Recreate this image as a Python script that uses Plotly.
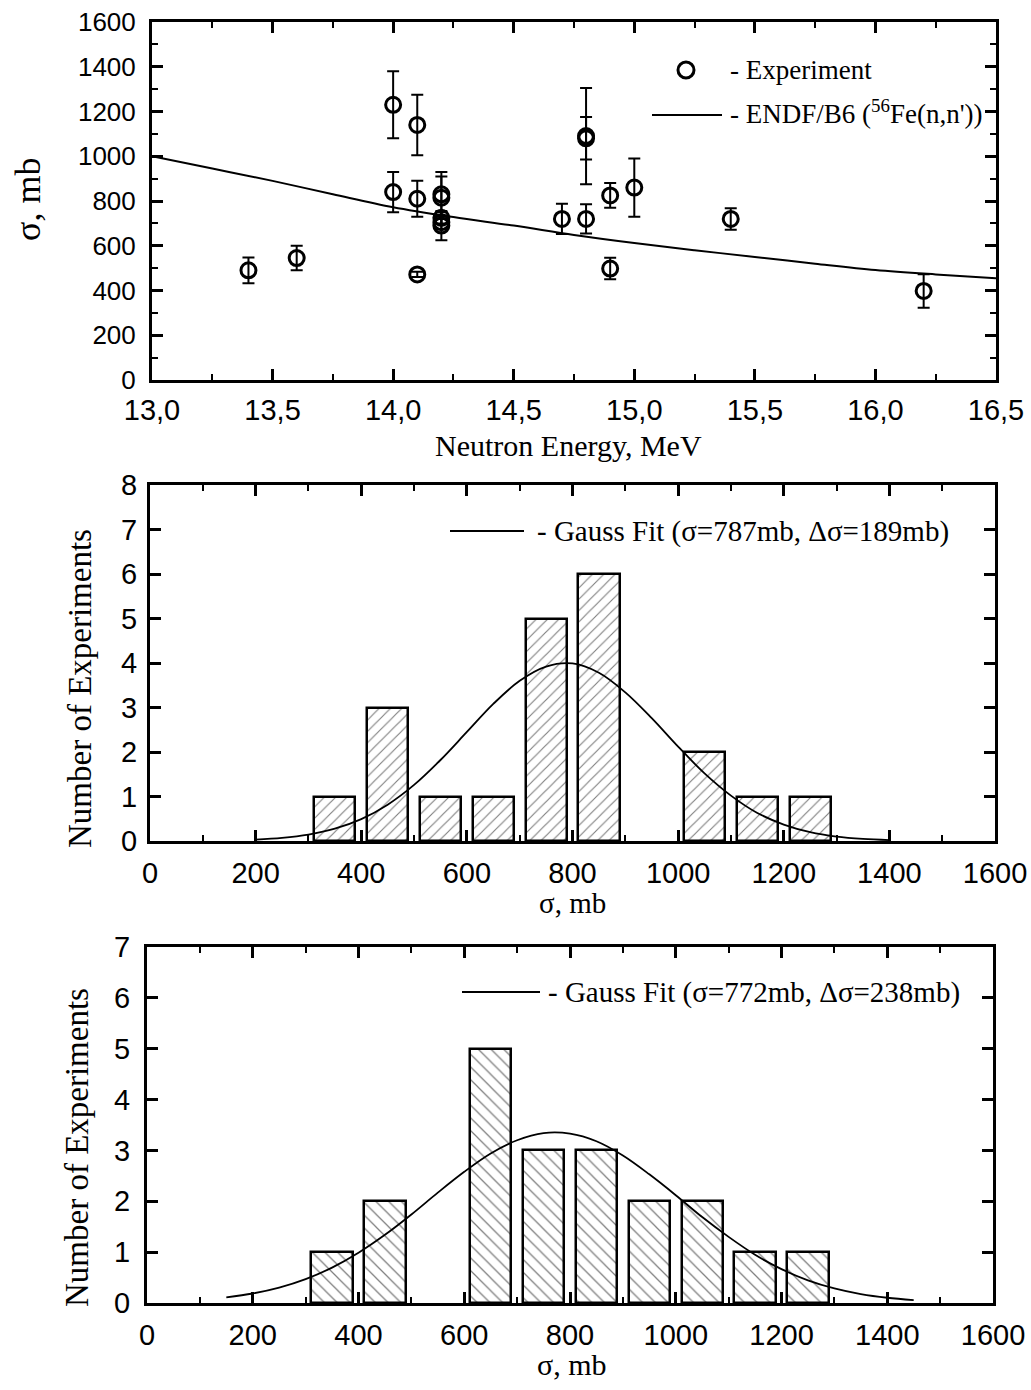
import plotly.graph_objects as go

W, H = 1031, 1390

# ---------------- data: top panel ----------------
exp_energy = [13.4, 13.6, 14.0, 14.0, 14.1, 14.1, 14.1, 14.2, 14.2, 14.2, 14.2, 14.2,
              14.7, 14.8, 14.8, 14.8, 14.9, 14.9, 15.0, 15.4, 16.2]
exp_sigma = [490, 545, 1230, 840, 1140, 810, 472, 830, 815, 725, 705, 690,
             720, 720, 1090, 1080, 825, 498, 860, 720, 398]
exp_err = [58, 55, 150, 90, 135, 80, 12, 100, 95, 25, 30, 65,
           68, 65, 215, 95, 55, 48, 130, 48, 75]

endf_energy = [13.0, 13.25, 13.5, 13.75, 14.0, 14.25, 14.5, 14.75, 15.0, 15.25, 15.5, 15.75, 16.0, 16.25, 16.5]
endf_sigma = [1000, 945, 890, 830, 772, 728, 690, 648, 612, 580, 550, 520, 492, 472, 455]

top_xticks = [13.0, 13.5, 14.0, 14.5, 15.0, 15.5, 16.0, 16.5]
top_xtext = ["13,0", "13,5", "14,0", "14,5", "15,0", "15,5", "16,0", "16,5"]

# ---------------- data: middle histogram ----------------
h1_centers = [350, 450, 550, 650, 750, 850, 950, 1050, 1150, 1250]
h1_counts = [1, 3, 1, 1, 5, 6, 0, 2, 1, 1]
g1_x = [200, 250, 300, 350, 400, 450, 500, 550, 600, 650, 700, 750, 800, 850, 900,
        950, 1000, 1050, 1100, 1150, 1200, 1250, 1300, 1350, 1400]
g1_y = [0.03, 0.07, 0.145, 0.276, 0.49, 0.816, 1.26, 1.82, 2.45, 3.08, 3.60, 3.92, 3.99,
        3.78, 3.34, 2.76, 2.12, 1.52, 1.02, 0.63, 0.37, 0.20, 0.10, 0.047, 0.021]

# ---------------- data: bottom histogram ----------------
h2_centers = [350, 450, 550, 650, 750, 850, 950, 1050, 1150, 1250]
h2_counts = [1, 2, 0, 5, 3, 3, 2, 2, 1, 1]
g2_x = [150, 200, 250, 300, 350, 400, 450, 500, 550, 600, 650, 700, 750, 800, 850, 900,
        950, 1000, 1050, 1100, 1150, 1200, 1250, 1300, 1350, 1400, 1450]
g2_y = [0.11, 0.187, 0.302, 0.469, 0.696, 0.988, 1.34, 1.74, 2.17, 2.58, 2.94, 3.20, 3.34,
        3.33, 3.18, 2.90, 2.53, 2.12, 1.69, 1.30, 0.949, 0.665, 0.446, 0.286, 0.175, 0.103, 0.058]

hist_ticks = [0, 200, 400, 600, 800, 1000, 1200, 1400, 1600]

SANS = "Liberation Sans"
SERIF = "Liberation Serif"


def px_x(p):
    return p / W


def px_y(p):
    return 1 - p / H


def nonzero(xs, ys):
    pairs = [(a, b) for a, b in zip(xs, ys) if b > 0]
    return [p[0] for p in pairs], [p[1] for p in pairs]


fig = go.Figure()

# top panel
fig.add_trace(go.Scatter(
    x=endf_energy, y=endf_sigma, mode="lines", line=dict(color="black", width=2, shape="spline"),
    xaxis="x", yaxis="y", showlegend=False))
fig.add_trace(go.Scatter(
    x=exp_energy, y=exp_sigma, mode="markers",
    marker=dict(symbol="circle-open", size=15, color="black", line=dict(width=3, color="black")),
    error_y=dict(type="data", array=exp_err, visible=True, color="black", thickness=2, width=6),
    xaxis="x", yaxis="y", showlegend=False))

# middle histogram
hx1, hy1 = nonzero(h1_centers, h1_counts)
fig.add_trace(go.Bar(
    x=hx1, y=hy1, width=78,
    marker=dict(color="white", line=dict(color="black", width=2.5),
                pattern=dict(shape="/", fgcolor="black", bgcolor="white", size=8, solidity=0.14)),
    xaxis="x2", yaxis="y2", showlegend=False))
fig.add_trace(go.Scatter(
    x=g1_x, y=g1_y, mode="lines", line=dict(color="black", width=1.8, shape="spline"),
    xaxis="x2", yaxis="y2", showlegend=False))

# bottom histogram
hx2, hy2 = nonzero(h2_centers, h2_counts)
fig.add_trace(go.Bar(
    x=hx2, y=hy2, width=78,
    marker=dict(color="white", line=dict(color="black", width=2.5),
                pattern=dict(shape="\\", fgcolor="black", bgcolor="white", size=9, solidity=0.14)),
    xaxis="x3", yaxis="y3", showlegend=False))
fig.add_trace(go.Scatter(
    x=g2_x, y=g2_y, mode="lines", line=dict(color="black", width=1.8, shape="spline"),
    xaxis="x3", yaxis="y3", showlegend=False))

axis_common = dict(showline=True, linecolor="black", linewidth=3, mirror="ticks",
                   ticks="inside", tickcolor="black", tickwidth=2.5, ticklen=11,
                   showgrid=False, zeroline=False, automargin=False)

fig.update_layout(
    width=W, height=H, margin=dict(l=0, r=0, t=0, b=0, autoexpand=False),
    paper_bgcolor="white", plot_bgcolor="white", bargap=0,
    xaxis=dict(**axis_common, domain=[px_x(152), px_x(996)], range=[13.0, 16.5],
               tickvals=top_xticks, ticktext=top_xtext, anchor="y",
               tickfont=dict(family=SANS, size=29, color="black"), ticklabelstandoff=2,
               minor=dict(ticks="inside", dtick=0.25, ticklen=6, tickwidth=2, tickcolor="black")),
    yaxis=dict(**axis_common, domain=[px_y(380), px_y(22)], range=[0, 1600], dtick=200, anchor="x",
               tickfont=dict(family=SANS, size=26, color="black"), ticklabelstandoff=8,
               minor=dict(ticks="inside", dtick=100, ticklen=6, tickwidth=2, tickcolor="black")),
    xaxis2=dict(**axis_common, domain=[px_x(150), px_x(995)], range=[0, 1600], tickvals=hist_ticks,
                anchor="y2", tickfont=dict(family=SANS, size=29, color="black"), ticklabelstandoff=4,
                minor=dict(ticks="inside", dtick=100, ticklen=6, tickwidth=2, tickcolor="black")),
    yaxis2=dict(**axis_common, domain=[px_y(841), px_y(485)], range=[0, 8], dtick=1, anchor="x2",
                tickfont=dict(family=SANS, size=29, color="black"), ticklabelstandoff=4),
    xaxis3=dict(**axis_common, domain=[px_x(147), px_x(993)], range=[0, 1600], tickvals=hist_ticks,
                anchor="y3", tickfont=dict(family=SANS, size=29, color="black"), ticklabelstandoff=4,
                minor=dict(ticks="inside", dtick=100, ticklen=6, tickwidth=2, tickcolor="black")),
    yaxis3=dict(**axis_common, domain=[px_y(1303), px_y(947)], range=[0, 7], dtick=1, anchor="x3",
                tickfont=dict(family=SANS, size=29, color="black"), ticklabelstandoff=8),
)

annotations = []


def ann(text, x, y, size, angle=0, xanchor="center", family=SERIF):
    annotations.append(dict(text=text, x=px_x(x), y=px_y(y), xref="paper", yref="paper",
                            showarrow=False, textangle=angle, xanchor=xanchor, yanchor="middle",
                            font=dict(family=family, size=size, color="black")))


# axis titles
ann("σ, mb", 28, 200, 36, angle=-90)
ann("Neutron Energy, MeV", 568, 445, 30)
ann("Number of Experiments", 80, 689, 33, angle=-90)
ann("σ, mb", 572, 903, 29)
ann("Number of Experiments", 77, 1148, 33, angle=-90)
ann("σ, mb", 572, 1364, 30)

# legend texts
ann("- Experiment", 728, 70, 27, xanchor="left")
ann("- ENDF/B6 (<sup>56</sup>Fe(n,n'))", 728, 112, 27, xanchor="left")
ann("- Gauss Fit (σ=787mb, Δσ=189mb)", 535, 531, 29, xanchor="left")
ann("- Gauss Fit (σ=772mb, Δσ=238mb)", 546, 992, 29, xanchor="left")

fig.update_layout(annotations=annotations)

shapes = [
    dict(type="line", xref="paper", yref="paper", x0=px_x(652), x1=px_x(722), y0=px_y(115), y1=px_y(115),
         line=dict(color="black", width=2)),
    dict(type="circle", xref="paper", yref="paper", xsizemode="pixel", ysizemode="pixel",
         xanchor=px_x(686), yanchor=px_y(70), x0=-8, x1=8, y0=-8, y1=8,
         line=dict(color="black", width=3)),
    dict(type="line", xref="paper", yref="paper", x0=px_x(450), x1=px_x(524), y0=px_y(531), y1=px_y(531),
         line=dict(color="black", width=1.8)),
    dict(type="line", xref="paper", yref="paper", x0=px_x(462), x1=px_x(540), y0=px_y(992), y1=px_y(992),
         line=dict(color="black", width=1.8)),
]
fig.update_layout(shapes=shapes)

fig.write_html("out.html", config={"displayModeBar": False},
               post_script="document.body.style.margin='0';document.body.style.padding='0';")
